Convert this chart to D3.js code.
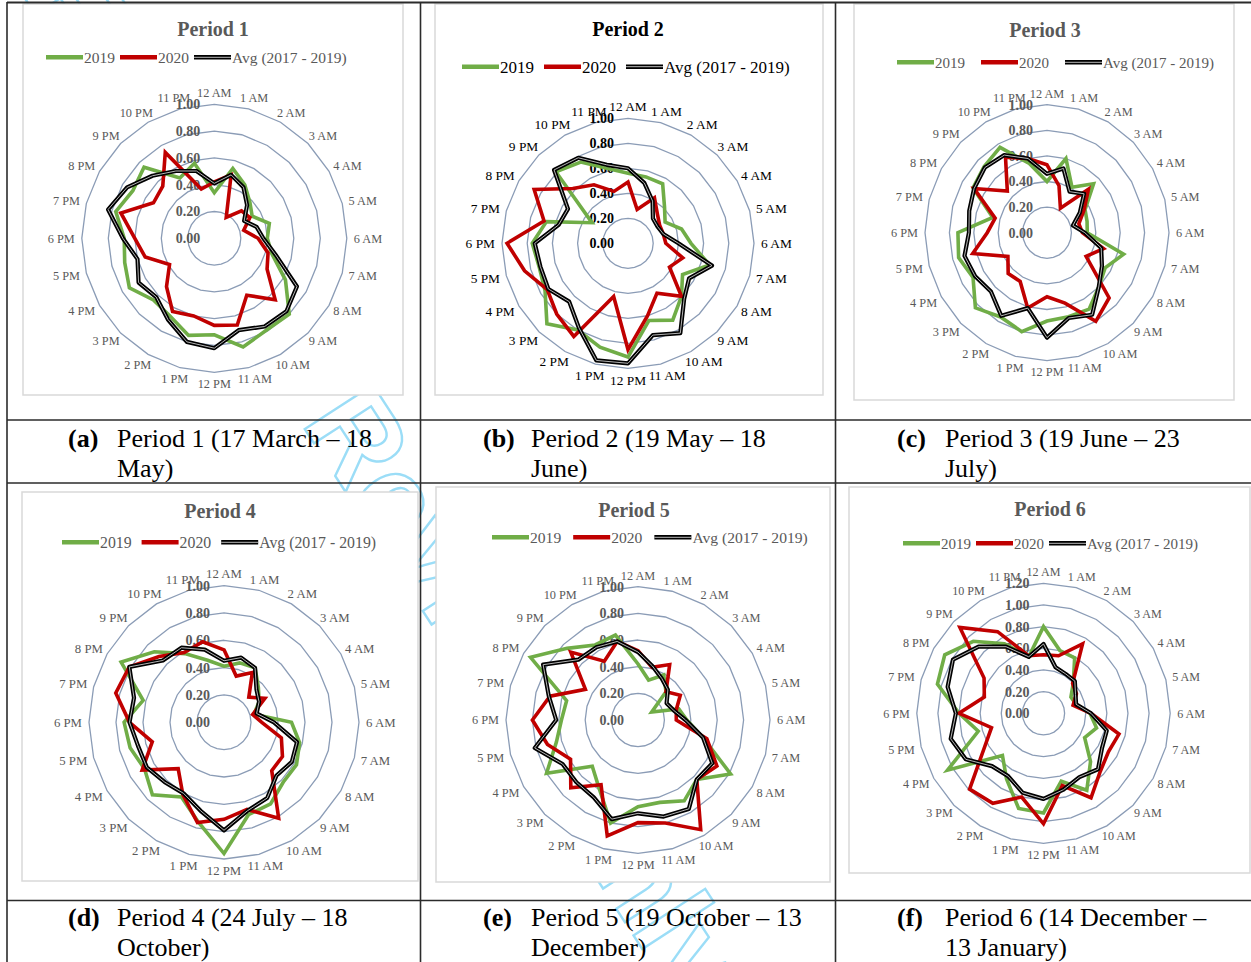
<!DOCTYPE html>
<html><head><meta charset="utf-8">
<script src="https://cdn.jsdelivr.net/npm/d3@7"></script>
<style>body{margin:0;background:#fff}svg{display:block}</style>
</head><body>
<svg id="fig" width="1251" height="962"></svg>
<script>
// ---------- DATA ----------
const hourLabels = ["12 AM","1 AM","2 AM","3 AM","4 AM","5 AM","6 AM","7 AM","8 AM","9 AM","10 AM","11 AM",
                    "12 PM","1 PM","2 PM","3 PM","4 PM","5 PM","6 PM","7 PM","8 PM","9 PM","10 PM","11 PM"];
const seriesNames = ["2019", "2020", "Avg (2017 - 2019)"];
const chartTitles = ["Period 1", "Period 2", "Period 3", "Period 4", "Period 5", "Period 6"];
const ticksTo1 = [0, 0.2, 0.4, 0.6, 0.8, 1.0];
const ticksTo12 = [0, 0.2, 0.4, 0.6, 0.8, 1.0, 1.2];

const p1_2019 = [0.34,0.54,0.46,0.38,0.33,0.43,0.40,0.45,0.62,0.80,0.79,0.84,0.72,0.75,0.67,0.65,0.74,0.70,0.68,0.77,0.71,0.75,0.52,0.58];
const p1_2020 = [0.42,0.49,0.18,0.29,0.31,0.23,0.33,0.42,0.46,0.65,0.49,0.67,0.65,0.60,0.63,0.51,0.39,0.54,0.60,0.73,0.53,0.55,0.74,0.38];
const p1_avg  = [0.41,0.49,0.44,0.35,0.26,0.33,0.37,0.48,0.72,0.77,0.76,0.71,0.82,0.80,0.70,0.62,0.66,0.60,0.69,0.83,0.76,0.66,0.58,0.52];

const p2_2019 = [0.56,0.55,0.55,0.41,0.34,0.44,0.50,0.67,0.50,0.60,0.71,0.64,0.91,0.86,0.80,0.91,0.76,0.73,0.76,0.67,0.33,0.81,0.75,0.62];
const p2_2020 = [0.49,0.28,0.42,0.33,0.29,0.29,0.30,0.45,0.38,0.60,0.46,0.60,0.85,0.44,0.86,0.80,0.74,0.85,0.96,0.69,0.86,0.62,0.54,0.43];
const p2_avg  = [0.60,0.50,0.39,0.28,0.27,0.29,0.40,0.69,0.56,0.63,0.83,0.76,0.96,0.97,0.78,0.66,0.73,0.72,0.74,0.57,0.55,0.83,0.79,0.65];

const p3_2019 = [0.40,0.60,0.41,0.54,0.36,0.34,0.33,0.65,0.55,0.60,0.69,0.68,0.69,0.80,0.76,0.83,0.70,0.75,0.73,0.46,0.70,0.73,0.77,0.56];
const p3_2020 = [0.53,0.38,0.22,0.48,0.35,0.27,0.29,0.48,0.37,0.72,0.80,0.57,0.50,0.61,0.44,0.45,0.37,0.63,0.49,0.44,0.69,0.46,0.68,0.60];
const p3_avg  = [0.46,0.52,0.37,0.43,0.31,0.22,0.31,0.46,0.52,0.60,0.74,0.69,0.82,0.61,0.75,0.65,0.68,0.70,0.64,0.66,0.69,0.72,0.70,0.60];

const p4_2019 = [0.41,0.45,0.46,0.36,0.30,0.23,0.50,0.58,0.62,0.62,0.69,0.70,0.96,0.75,0.63,0.75,0.68,0.72,0.74,0.62,0.88,0.73,0.58,0.47];
const p4_2020 = [0.53,0.35,0.42,0.26,0.35,0.22,0.28,0.44,0.50,0.50,0.81,0.66,0.71,0.76,0.61,0.48,0.70,0.55,0.70,0.83,0.81,0.68,0.59,0.61];
const p4_avg  = [0.45,0.49,0.46,0.34,0.30,0.25,0.37,0.56,0.58,0.55,0.64,0.67,0.79,0.67,0.60,0.62,0.66,0.66,0.70,0.69,0.81,0.64,0.63,0.55];

const p5_2019 = [0.42,0.31,0.39,0.30,0.12,0.32,0.37,0.51,0.81,0.63,0.70,0.64,0.65,0.80,0.59,0.49,0.80,0.64,0.58,0.56,0.94,0.76,0.65,0.66];
const p5_2020 = [0.52,0.41,0.48,0.30,0.37,0.30,0.29,0.54,0.69,0.63,0.95,0.80,0.77,0.90,0.56,0.72,0.59,0.71,0.80,0.69,0.46,0.72,0.51,0.61];
const p5_avg  = [0.51,0.42,0.36,0.32,0.25,0.28,0.36,0.51,0.65,0.63,0.77,0.75,0.70,0.77,0.67,0.66,0.66,0.81,0.62,0.70,0.83,0.64,0.63,0.61];

const p6_2019 = [0.80,0.60,0.59,0.40,0.30,0.32,0.44,0.52,0.45,0.63,0.82,0.65,0.92,0.91,0.70,0.55,1.05,0.64,0.80,1.04,1.08,0.94,0.74,0.54];
const p6_2020 = [0.54,0.55,0.74,0.39,0.36,0.29,0.45,0.74,0.71,0.76,0.90,0.69,1.02,0.80,0.96,0.99,0.65,0.51,0.80,0.58,0.65,1.12,0.87,0.55];
const p6_avg  = [0.64,0.44,0.42,0.42,0.35,0.32,0.45,0.62,0.64,0.73,0.68,0.73,0.79,0.76,0.67,0.69,0.85,0.91,0.83,0.94,0.99,0.87,0.71,0.54];

const captionTags  = ["(a)", "(b)", "(c)", "(d)", "(e)", "(f)"];
const captionLine1 = ["Period 1 (17 March – 18", "Period 2 (19 May – 18", "Period 3 (19 June – 23",
                      "Period 4 (24 July – 18", "Period 5 (19 October – 13", "Period 6 (14 December –"];
const captionLine2 = ["May)", "June)", "July)", "October)", "December)", "13 January)"];

// ---------- LAYOUT / STYLE ----------
const SERIF = "'Liberation Serif','Times New Roman',serif";
const seriesColors = ["#70AD47", "#C00000", "#000000"];
const charts = [
  {vals:[p1_2019,p1_2020,p1_avg], ticks:ticksTo1,  box:[23,4,403,395],  cx:214.3, cy:238.3, rx:132.5, ry:134,  tx:213,  ty:36,    lx:46,  ly:57.3,  lgap:5,  lfont:15.5, cfont:12.3, ink:"#595959"},
  {vals:[p2_2019,p2_2020,p2_avg], ticks:ticksTo1,  box:[435,4,823,395], cx:628,   cy:243.3, rx:126,   ry:125,  tx:628,  ty:36,    lx:462, ly:66.7,  lgap:10, lfont:17,   cfont:13.4, ink:"#000000"},
  {vals:[p3_2019,p3_2020,p3_avg], ticks:ticksTo1,  box:[854,4,1234,400],cx:1047,  cy:232.7, rx:122,   ry:128,  tx:1045, ty:36.5,  lx:897, ly:62.3,  lgap:16, lfont:15,   cfont:12.3, ink:"#595959"},
  {vals:[p4_2019,p4_2020,p4_avg], ticks:ticksTo1,  box:[22,492,418,881],cx:224,   cy:722.3, rx:135,   ry:136.7,tx:220,  ty:517.5, lx:62,  ly:542.3, lgap:10, lfont:15.8, cfont:12.8, ink:"#595959"},
  {vals:[p5_2019,p5_2020,p5_avg], ticks:ticksTo1,  box:[436,487,830,882],cx:638,  cy:720,   rx:132,   ry:133.3,tx:634,  ty:516.5, lx:492, ly:537.3, lgap:12, lfont:15.6, cfont:12.3, ink:"#595959"},
  {vals:[p6_2019,p6_2020,p6_avg], ticks:ticksTo12, box:[849,487,1250,873],cx:1043.5,cy:713.3, rx:126.7, ry:130,  tx:1050, ty:515.5, lx:903, ly:543.3, lgap:5,  lfont:15,   cfont:12.1, ink:"#595959"}
];
const captionPos = [
  {tagX:68, x:117, y1:447, y2:477}, {tagX:483, x:531, y1:447, y2:477}, {tagX:897, x:945, y1:447, y2:477},
  {tagX:68, x:117, y1:926, y2:956}, {tagX:483, x:531, y1:926, y2:956}, {tagX:897, x:945, y1:926, y2:956}
];

const svg = d3.select("#fig");

// faint diagonal watermark behind the table
svg.append("text")
  .attr("transform", "translate(0,-40) rotate(57)")
  .attr("x", 40).attr("y", 0)
  .style("font-family", "'Liberation Sans',Arial,sans-serif")
  .style("font-size", "118px").style("font-weight", "bold")
  .attr("fill", "none").attr("stroke", "#9BDDF7").attr("stroke-width", 2.4)
  .text("For Peer Review Only");

charts.forEach((C, k) => {
  const g = svg.append("g");
  const [bx0, by0, bx1, by1] = C.box;
  g.append("rect").attr("x", bx0).attr("y", by0).attr("width", bx1 - bx0).attr("height", by1 - by0)
    .attr("fill", "#fff").attr("stroke", "#D9D9D9").attr("stroke-width", 1.5);

  const maxV = C.ticks[C.ticks.length - 1];
  const rX = d3.scaleLinear().domain([0, maxV]).range([0, C.rx]);
  const rY = d3.scaleLinear().domain([0, maxV]).range([0, C.ry]);
  const ang = d3.scaleLinear().domain([0, hourLabels.length]).range([0, 2 * Math.PI]);
  const px = (i, v) => C.cx + rX(v) * Math.sin(ang(i));
  const py = (i, v) => C.cy - rY(v) * Math.cos(ang(i));

  // title
  g.append("text").attr("x", C.tx).attr("y", C.ty).attr("text-anchor", "middle")
    .style("font-family", SERIF).style("font-size", "20px").style("font-weight", "bold")
    .attr("fill", C.ink).text(chartTitles[k]);

  // legend
  let lx = C.lx;
  seriesNames.forEach((name, s) => {
    const x0 = lx, x1 = lx + 37;
    if (s === 2) {
      g.append("line").attr("x1", x0).attr("x2", x1).attr("y1", C.ly).attr("y2", C.ly)
        .attr("stroke", "#000").attr("stroke-width", 4.4);
      g.append("line").attr("x1", x0).attr("x2", x1).attr("y1", C.ly).attr("y2", C.ly)
        .attr("stroke", "#cfcfcf").attr("stroke-width", 0.9);
    } else {
      g.append("line").attr("x1", x0).attr("x2", x1).attr("y1", C.ly).attr("y2", C.ly)
        .attr("stroke", seriesColors[s]).attr("stroke-width", 4.4);
    }
    const t = g.append("text").attr("x", x1 + 1).attr("y", C.ly).attr("dy", "0.35em")
      .style("font-family", SERIF).style("font-size", C.lfont + "px").attr("fill", C.ink).text(name);
    lx = x1 + 1 + t.node().getComputedTextLength() + C.lgap;
  });

  // gridlines (polygons)
  C.ticks.filter(t => t > 0).forEach(t => {
    g.append("path")
      .attr("d", d3.line().curve(d3.curveLinearClosed)(hourLabels.map((h, i) => [px(i, t), py(i, t)])))
      .attr("fill", "none").attr("stroke", "#8B9CB6").attr("stroke-width", 1.3);
  });

  // radial tick labels
  C.ticks.forEach(t => {
    g.append("text").attr("x", C.cx - 14).attr("y", C.cy - rY(t)).attr("dy", "0.35em")
      .attr("text-anchor", "end").style("font-family", SERIF).style("font-size", "14px")
      .style("font-weight", "bold").attr("fill", C.ink).text(d3.format(".2f")(t));
  });

  // category labels
  hourLabels.forEach((h, i) => {
    const a = ang(i), s = Math.sin(a), c = Math.cos(a);
    const gap = 7;
    const t = g.append("text").style("font-family", SERIF).style("font-size", C.cfont + "px")
      .attr("fill", C.ink).attr("text-anchor", "middle").attr("dy", "0.35em").text(h);
    const w = t.node().getComputedTextLength();
    const hgt = C.cfont * 0.72;
    const x = C.cx + (C.rx + gap) * s + (w / 2) * s;
    const y = C.cy - (C.ry + gap) * c - (hgt / 2) * c;
    t.attr("x", x).attr("y", y);
  });

  // series
  C.vals.forEach((vals, s) => {
    const pts = vals.map((v, i) => [px(i, v), py(i, v)]);
    const d = d3.line().curve(d3.curveLinearClosed)(pts);
    if (s === 2) {
      g.append("path").attr("d", d).attr("fill", "none").attr("stroke", "#000")
        .attr("stroke-width", 4.2).attr("stroke-linejoin", "round");
      g.append("path").attr("d", d).attr("fill", "none").attr("stroke", "#c8c8c8")
        .attr("stroke-width", 0.9).attr("stroke-linejoin", "round");
    } else {
      g.append("path").attr("d", d).attr("fill", "none").attr("stroke", seriesColors[s])
        .attr("stroke-width", 3.6).attr("stroke-linejoin", "miter");
    }
  });
});

// captions
captionPos.forEach((P, k) => {
  svg.append("text").attr("x", P.tagX).attr("y", P.y1).style("font-family", SERIF)
    .style("font-size", "26px").style("font-weight", "bold").attr("fill", "#000").text(captionTags[k]);
  svg.append("text").attr("x", P.x).attr("y", P.y1).style("font-family", SERIF)
    .style("font-size", "26px").attr("fill", "#000").text(captionLine1[k]);
  svg.append("text").attr("x", P.x).attr("y", P.y2).style("font-family", SERIF)
    .style("font-size", "26px").attr("fill", "#000").text(captionLine2[k]);
});

// table borders
const B = svg.append("g").attr("stroke", "#2b2b2b").attr("stroke-width", 1.6);
B.append("line").attr("x1", 7).attr("x2", 1251).attr("y1", 2.5).attr("y2", 2.5).attr("stroke-width", 2);
[420, 483, 900.5].forEach(y => B.append("line").attr("x1", 7).attr("x2", 1251).attr("y1", y).attr("y2", y));
[7, 420.5, 835.5].forEach(x => B.append("line").attr("x1", x).attr("x2", x).attr("y1", 2).attr("y2", 962));
</script>
</body></html>
